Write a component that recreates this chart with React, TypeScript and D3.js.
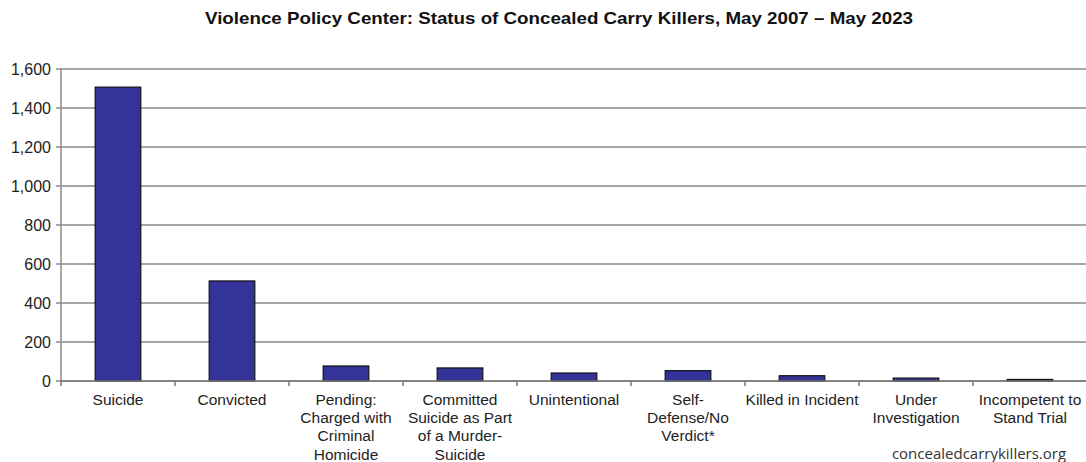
import * as d3 from "d3";

const categories = [
  "Suicide",
  "Convicted",
  "Pending: Charged with Criminal Homicide",
  "Committed Suicide as Part of a Murder-Suicide",
  "Unintentional",
  "Self-Defense/No Verdict*",
  "Killed in Incident",
  "Under Investigation",
  "Incompetent to Stand Trial",
];
const values = [1507, 513, 77, 67, 41, 53, 27, 15, 8];
const labelLines = [
  ["Suicide"],
  ["Convicted"],
  ["Pending:", "Charged with", "Criminal", "Homicide"],
  ["Committed", "Suicide as Part", "of a Murder-", "Suicide"],
  ["Unintentional"],
  ["Self-", "Defense/No", "Verdict*"],
  ["Killed in Incident"],
  ["Under", "Investigation"],
  ["Incompetent to", "Stand Trial"],
];
const yTicks = [0, 200, 400, 600, 800, 1000, 1200, 1400, 1600];

const title = "Violence Policy Center: Status of Concealed Carry Killers, May 2007 \u2013 May 2023";
const source = "concealedcarrykillers.org";

export default function App() {
  const width = 1086;
  const height = 462;
  const margin = { top: 69, right: -1, bottom: 81, left: 61 };

  const x = d3.scaleBand()
    .domain(categories)
    .range([margin.left, width - margin.right])
    .paddingInner(0.6)
    .paddingOuter(0.3);

  // band boundaries for the category ticks
  const step = x.step();
  const x0 = margin.left;

  const y = d3.scaleLinear()
    .domain([0, 1600])
    .range([height - margin.bottom, margin.top]);

  const font = "Arial, 'Liberation Sans', sans-serif";

  return (
    <svg
      width={width}
      height={height}
      style={{ position: "fixed", left: 0, top: 0, background: "#fff" }}
      fontFamily={font}
    >
      <text
        x={559}
        y={24}
        textAnchor="middle"
        fontSize="17px"
        fontWeight="bold"
        fill="#111"
        textLength={708}
        lengthAdjust="spacingAndGlyphs"
      >
        {title}
      </text>

      {/* gridlines and y ticks */}
      {yTicks.map((t) => (
        <g key={t} transform={`translate(0,${y(t)})`}>
          <line x1={x0} x2={width} stroke="#8a8a8a" strokeWidth={1.5} />
          <line x1={x0 - 5} x2={x0} stroke="#8a8a8a" strokeWidth={1.5} />
          <text x={x0 - 10} y={5.5} textAnchor="end" fontSize="16px" fill="#222">
            {d3.format(",")(t)}
          </text>
        </g>
      ))}

      {/* y axis */}
      <line x1={x0} x2={x0} y1={y(1600)} y2={y(0)} stroke="#8a8a8a" strokeWidth={1.5} />

      {/* bars */}
      {categories.map((c, i) => (
        <rect
          key={c}
          x={x(c)}
          y={y(values[i])}
          width={x.bandwidth()}
          height={y(0) - y(values[i])}
          fill="#333399"
          stroke="#111"
          strokeWidth={1.2}
        />
      ))}

      {/* x axis */}
      <line x1={x0} x2={width} y1={y(0)} y2={y(0)} stroke="#777" strokeWidth={1.5} />
      {d3.range(categories.length + 1).map((i) => (
        <line
          key={i}
          x1={x0 + i * step}
          x2={x0 + i * step}
          y1={y(0)}
          y2={y(0) + 5}
          stroke="#777"
          strokeWidth={1.5}
        />
      ))}

      {/* category labels */}
      {categories.map((c, i) => (
        <text key={c} textAnchor="middle" fontSize="15.5px" fill="#222">
          {labelLines[i].map((ln, j) => (
            <tspan key={j} x={x(c)! + x.bandwidth() / 2} y={405 + j * 18.2}>
              {ln}
            </tspan>
          ))}
        </text>
      ))}

      <text x={979} y={459} textAnchor="middle" fontSize="15px" fill="#333" fontFamily="'Open Sans', 'Noto Sans', sans-serif">
        {source}
      </text>
    </svg>
  );
}
